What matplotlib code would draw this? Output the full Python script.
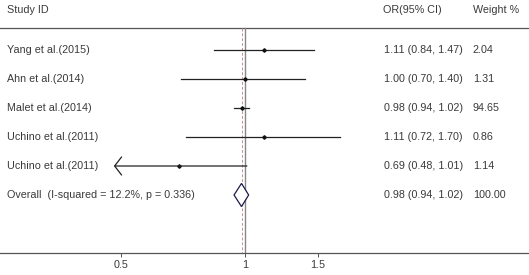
import matplotlib
matplotlib.use("Agg")
import matplotlib.pyplot as plt

# forest plot data
studies = ["Yang et al.(2015)", "Ahn et al.(2014)", "Malet et al.(2014)",
           "Uchino et al.(2011)", "Uchino et al.(2011)"]
odds = [1.11, 1.00, 0.98, 1.11, 0.69]
ci_lo = [0.84, 0.70, 0.94, 0.72, 0.48]
ci_hi = [1.47, 1.40, 1.02, 1.70, 1.01]
weights = ["2.04", "1.31", "94.65", "0.86", "1.14"]
left_arrow = [False, False, False, False, True]
overall = (0.98, 0.94, 1.02)
overall_label = "Overall  (I-squared = 12.2%, p = 0.336)"
overall_weight = "100.00"
xticks = [0.5, 1, 1.5]
xticklabels = ["0.5", "1", "1.5"]

plt.rcParams['font.family'] = ['Liberation Sans', 'DejaVu Sans']
txt = "#3a3a3a"
fs = 7.75

fig = plt.figure(figsize=(5.29, 2.75), dpi=100)
ax = fig.add_axes([0, 22 / 275, 1, 253 / 275])
ax.set_xscale("log")
ax.set_xlim(0.254, 4.89)
ax.set_ylim(7.0, -1.724)

for s in ["top", "left", "right"]:
    ax.spines[s].set_visible(False)
ax.spines["bottom"].set_color("#555555")
ax.spines["bottom"].set_linewidth(0.9)
ax.set_yticks([])
ax.set_xticks(xticks)
ax.set_xticklabels(xticklabels)
ax.minorticks_off()
ax.tick_params(axis="x", length=3, width=0.7, color="#555555",
               labelsize=fs, labelcolor=txt, pad=2)

trans = ax.get_yaxis_transform()

# header
ax.text(0.013, -1.379, "Study ID", transform=trans,
        fontsize=fs, color=txt, va="center")
ax.text(0.724, -1.379, "OR(95% CI)", transform=trans,
        fontsize=fs, color=txt, va="center")
ax.text(0.894, -1.379, "Weight %", transform=trans,
        fontsize=fs, color=txt, va="center")
ax.axhline(-0.759, color="#555555", lw=0.9)

# reference lines
ax.plot([1, 1], [-0.759, 7.0], color="#888888", lw=1.0)
ax.plot([overall[0]] * 2, [-0.759, 7.0], color="#c89090", lw=0.7,
        ls=(0, (3, 2)))

for i, name in enumerate(studies):
    if left_arrow[i]:
        ax.annotate("", xy=(ci_lo[i], i), xytext=(ci_hi[i], i),
                    arrowprops=dict(arrowstyle="->,head_length=0.5,head_width=0.65",
                                    color="#222222", lw=0.9,
                                    shrinkA=0, shrinkB=0))
    else:
        ax.plot([ci_lo[i], ci_hi[i]], [i, i], color="#222222", lw=0.9)
    ax.plot(odds[i], i, marker="D", ms=1.8, color="#111111")
    ax.text(0.013, i, name, transform=trans,
            fontsize=fs, color=txt, va="center")
    ax.text(0.726, i, f"{odds[i]:.2f} ({ci_lo[i]:.2f}, {ci_hi[i]:.2f})",
            transform=trans, fontsize=fs, color=txt, va="center")
    ax.text(0.894, i, weights[i], transform=trans,
            fontsize=fs, color=txt, va="center")

# overall diamond
yo = len(studies)
est, lo, hi = overall
ax.fill([lo, est, hi, est, lo], [yo, yo - 0.4, yo, yo + 0.4, yo],
        facecolor="white", edgecolor="#1a1a4a", lw=0.9, zorder=3)
ax.text(0.013, yo, overall_label, transform=trans,
        fontsize=fs, color=txt, va="center")
ax.text(0.726, yo, f"{est:.2f} ({lo:.2f}, {hi:.2f})",
        transform=trans, fontsize=fs, color=txt, va="center")
ax.text(0.894, yo, overall_weight, transform=trans,
        fontsize=fs, color=txt, va="center")

fig.savefig("out.png", dpi=100)
